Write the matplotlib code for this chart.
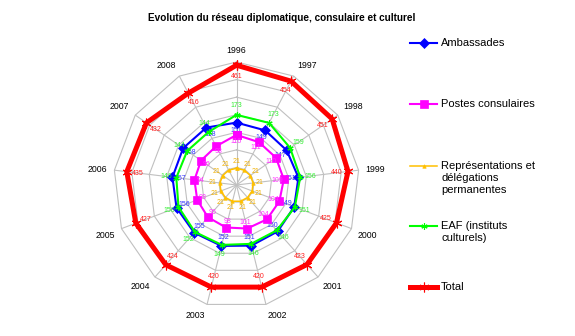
import numpy as np
import matplotlib
matplotlib.use("Agg")
import matplotlib.pyplot as plt
from matplotlib.lines import Line2D

plt.rcParams['font.family'] = ['Liberation Sans', 'DejaVu Sans']

# Réseau diplomatique, consulaire et culturel (nombre de postes)
years = ["1996", "1997", "1998", "1999", "2000", "2001", "2002",
         "2003", "2004", "2005", "2006", "2007", "2008"]
ambassades = [151, 149, 147, 151, 149, 150, 151, 152, 155, 156, 157, 158, 158]
postes_consulaires = [116, 111, 110, 109, 104, 104, 101, 98, 96, 93, 94, 96, 98]
representations = [21, 21, 21, 21, 21, 21, 21, 21, 21, 21, 21, 21, 21]
eaf = [173, 173, 159, 156, 151, 146, 146, 149, 152, 150, 146, 144, 144]
total = [461, 454, 451, 440, 425, 423, 420, 420, 424, 427, 435, 432, 416]

series_names = ["Ambassades", "Postes consulaires",
                "Représentations et\ndélégations\npermanentes",
                "EAF (instituts\nculturels)", "Total"]

W, H = 575, 336
fig = plt.figure(figsize=(W / 100, H / 100), dpi=100)
fig.patch.set_facecolor("white")

# radar area: centre and outer radius in pixels
cx, cy, R = 236.5, 185.0, 123.0
rect = [(cx - R) / W, (H - cy - R) / H, 2 * R / W, 2 * R / H]

n = len(years)
theta = np.arange(n) * 2 * np.pi / n
closed_theta = np.append(theta, theta[0])


def closed(vals):
    return np.append(vals, vals[0])


def setup(ax):
    ax.set_theta_zero_location('N')
    ax.set_theta_direction(-1)
    ax.spines['polar'].set_visible(False)
    ax.set_yticks([])
    ax.tick_params(axis='x', length=0, pad=0)


grid_col = "#c0c0c0"

# main radial axis for the four components
ax = fig.add_axes(rect, projection='polar')
setup(ax)
lo, hi = -26.6, 323.5
ax.set_ylim(lo, hi)
ax.set_xticks(theta)
ax.set_xticklabels([])
ax.xaxis.grid(True, color=grid_col, lw=0.8)
ax.set_axisbelow(True)

# polygonal rings
for v in np.linspace(lo, hi, 8)[1:]:
    ax.plot(closed_theta, np.full(n + 1, v), color=grid_col, lw=0.8,
            zorder=0.5, clip_on=False)

# category labels
for t, lab in zip(theta, years):
    s, c = np.sin(t), np.cos(t)
    ha = 'left' if s > 0.15 else ('right' if s < -0.15 else 'center')
    va = 'bottom' if c > 0.3 else ('top' if c < -0.3 else 'center')
    ax.annotate(lab, xy=(t, hi), xytext=(5 * s, 5 * c),
                textcoords='offset points', ha=ha, va=va, fontsize=6.3,
                color='black', annotation_clip=False)


def draw_series(axis, vals, color, lw, marker, ms, mew, label_color, off,
                z, mfc=None):
    axis.plot(closed_theta, closed(vals), color=color, lw=lw, marker=marker,
              ms=ms, mew=mew, mfc=mfc if mfc else color, mec=color,
              zorder=z, clip_on=False)
    for t, v in zip(theta, vals):
        axis.annotate(str(v), xy=(t, v),
                      xytext=(off * np.sin(t), off * np.cos(t)),
                      textcoords='offset points', ha='center', va='center',
                      fontsize=5, color=label_color, zorder=z + 0.1,
                      annotation_clip=False)


blue, pink, gold, green, red = "#0000ff", "#ff00ff", "#ffc000", "#00ff00", "#ff0000"
asterisk = (6, 2, 0)

draw_series(ax, ambassades, blue, 1.5, 'D', 5, 0.5, "#3333ff", -6, 3)
draw_series(ax, postes_consulaires, pink, 1.5, 's', 6, 0.5, "#ff33ff", -4.5, 3.2)
draw_series(ax, representations, gold, 1.1, '^', 2.5, 0.5, "#f0b000", 5, 3.4)
draw_series(ax, eaf, green, 1.5, asterisk, 4.5, 0.8, "#33ee33", 7, 3.6)

# totals on their own radial axis
ax2 = fig.add_axes(rect, projection='polar', label='total')
setup(ax2)
ax2.patch.set_visible(False)
ax2.set_xticks([])
ax2.grid(False)
ax2.set_ylim(125, 470)
draw_series(ax2, total, red, 3.6, asterisk, 7, 0.8, "#ff2020", -8, 4)

# title
fig.text(282 / W, 1 - 18 / H,
         "Evolution du réseau diplomatique, consulaire et culturel",
         ha='center', va='center', fontsize=7.2, fontweight='bold')

# legend
legend_rows = [
    (series_names[0], blue, 1.5, 'D', 5, 0.5, 43),
    (series_names[1], pink, 1.5, 's', 6, 0.5, 104),
    (series_names[2], gold, 1.1, '^', 2.5, 0.5, 166),
    (series_names[3], green, 1.5, asterisk, 4.5, 0.8, 226),
    (series_names[4], red, 3.6, asterisk, 7, 0.8, 287),
]
x0, x1, xt = 410 / W, 437 / W, 441 / W
for name, col, lw, mk, ms, mew, yp in legend_rows:
    yf = 1 - yp / H
    fig.add_artist(Line2D([x0, x1], [yf, yf], color=col, lw=lw,
                          transform=fig.transFigure))
    fig.add_artist(Line2D([(x0 + x1) / 2], [yf], color=col, marker=mk, ms=ms,
                          mew=mew, mfc=col, mec=col,
                          transform=fig.transFigure))
    fig.text(xt, 1 - (yp - 5) / H, name, ha='left', va='top', fontsize=8,
             linespacing=1.25)

fig.savefig("out.png", dpi=100, facecolor="white")
